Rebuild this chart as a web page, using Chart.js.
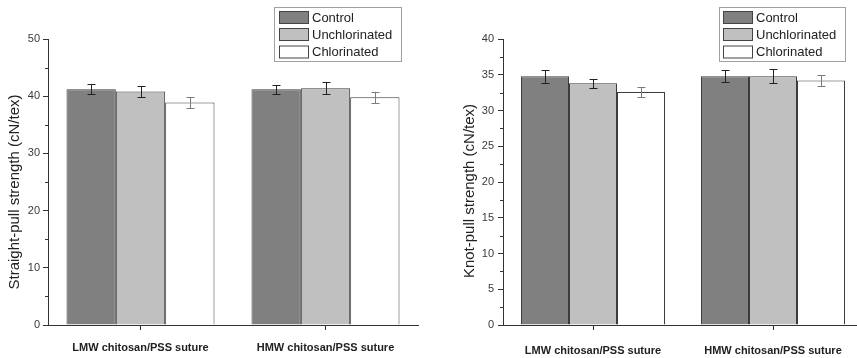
<!DOCTYPE html>
<html>
<head>
<meta charset="utf-8">
<script src="https://cdn.jsdelivr.net/npm/chart.js@4.4.0/dist/chart.umd.min.js"></script>
<style>
  html, body { margin: 0; padding: 0; background: #fff; overflow: hidden; }
  body { width: 857px; height: 358px; position: relative; }
  .box { position: absolute; top: 0; height: 358px; }
  #box1 { left: 0; width: 430px; }
  #box2 { left: 430px; width: 440px; }
</style>
</head>
<body>
<div class="box" id="box1"><canvas id="chart-1"></canvas></div>
<div class="box" id="box2"><canvas id="chart-2"></canvas></div>
<script>
// Data

const categories = ['LMW chitosan/PSS suture', 'HMW chitosan/PSS suture'];
const seriesNames = ['Control', 'Unchlorinated', 'Chlorinated'];
const seriesColors = ['#808080', '#c0c0c0', '#ffffff'];

// straight-pull strength (cN/tex)
const straightControl = [41.2, 41.2];
const straightUnchlorinated = [40.8, 41.4];
const straightChlorinated = [38.9, 39.8];
const straightControlErr = [0.9, 0.8];
const straightUnchlorinatedErr = [0.9, 1.0];
const straightChlorinatedErr = [0.9, 1.0];

// knot-pull strength (cN/tex)
const knotControl = [34.8, 34.8];
const knotUnchlorinated = [33.8, 34.8];
const knotChlorinated = [32.6, 34.2];
const knotControlErr = [0.9, 0.8];
const knotUnchlorinatedErr = [0.6, 1.0];
const knotChlorinatedErr = [0.7, 0.8];

const FONT = "'Liberation Sans', Arial, sans-serif";
const AXIS = '#333333';

// Plugins

// error bars drawn on top of each bar from dataset.errors
const errorBarPlugin = {
    id: 'errorBars',
    afterDatasetsDraw(chart) {
        const ctx = chart.ctx;
        const yScale = chart.scales.y;
        chart.data.datasets.forEach((ds, i) => {
            const meta = chart.getDatasetMeta(i);
            meta.data.forEach((bar, j) => {
                const x = Math.round(bar.x) + 0.5;
                const yTop = Math.round(yScale.getPixelForValue(ds.data[j] + ds.errors[j])) + 0.5;
                const yBot = Math.round(yScale.getPixelForValue(ds.data[j] - ds.errors[j])) + 0.5;
                ctx.save();
                ctx.strokeStyle = ds.errorColor;
                ctx.lineWidth = 1;
                ctx.beginPath();
                ctx.moveTo(x, yTop); ctx.lineTo(x, yBot);
                ctx.moveTo(x - 4, yTop); ctx.lineTo(x + 4, yTop);
                ctx.moveTo(x - 4, yBot); ctx.lineTo(x + 4, yBot);
                ctx.stroke();
                ctx.restore();
            });
        });
    }
};

// short minor ticks between labelled ticks on y axis
const minorTickPlugin = {
    id: 'minorTicks',
    afterDraw(chart, args, opts) {
        const ctx = chart.ctx;
        const y = chart.scales.y;
        const left = chart.chartArea.left;
        ctx.save();
        ctx.strokeStyle = AXIS;
        ctx.lineWidth = 1;
        ctx.beginPath();
        for (let v = opts.step; v < y.max; v += opts.step * 2) {
            const py = Math.round(y.getPixelForValue(v)) + 0.5;
            ctx.moveTo(left - 3, py);
            ctx.lineTo(left, py);
        }
        ctx.stroke();
        ctx.restore();
    }
};

// rotated y axis title, placed by hand
const yTitlePlugin = {
    id: 'yTitle',
    afterDraw(chart, args, opts) {
        const ctx = chart.ctx;
        ctx.save();
        ctx.translate(opts.x, opts.y);
        ctx.rotate(-Math.PI / 2);
        ctx.font = '15px ' + FONT;
        ctx.fillStyle = '#222222';
        ctx.textAlign = 'center';
        ctx.textBaseline = 'middle';
        ctx.fillText(opts.text, 0, 0);
        ctx.restore();
    }
};

// boxed legend in top right
const boxLegendPlugin = {
    id: 'boxLegend',
    afterDraw(chart, args, opts) {
        const ctx = chart.ctx;
        ctx.save();
        ctx.strokeStyle = '#a0a0a0';
        ctx.lineWidth = 1;
        ctx.strokeRect(opts.x + 0.5, opts.y + 0.5, opts.w, opts.h);
        ctx.font = '13px ' + FONT;
        ctx.textBaseline = 'middle';
        chart.data.datasets.forEach((ds, i) => {
            const cy = opts.rows[i];
            ctx.fillStyle = ds.backgroundColor;
            ctx.fillRect(opts.swatchX, cy - 6, 29, 12);
            ctx.strokeStyle = '#444444';
            ctx.strokeRect(opts.swatchX + 0.5, cy - 6 + 0.5, 29, 12);
            ctx.fillStyle = '#222222';
            ctx.fillText(ds.label, opts.textX, cy + 1);
        });
        ctx.restore();
    }
};

function makeDatasets(values, errors) {
    return seriesNames.map((name, i) => ({
        label: name,
        data: values[i],
        errors: errors[i],
        errorColor: i === 2 ? '#7a7a7a' : '#222222',
        backgroundColor: seriesColors[i],
        borderColor: '#3c3c3c',
        borderWidth: 1,
        categoryPercentage: 0.8,
        barPercentage: 1.0,
    }));
}

function makeConfig(datasets, s) {
    return {
        type: 'bar',
        data: { labels: categories, datasets: datasets },
        plugins: [errorBarPlugin, minorTickPlugin, yTitlePlugin, boxLegendPlugin],
        options: {
            responsive: true,
            maintainAspectRatio: false,
            animation: false,
            layout: { padding: { left: s.padLeft, right: s.padRight, top: s.padTop, bottom: 0 } },
            plugins: {
                legend: { display: false },
                tooltip: { enabled: false },
                minorTicks: { step: s.step / 2 },
                yTitle: s.title,
                boxLegend: s.legend,
            },
            scales: {
                x: {
                    type: 'category',
                    offset: true,
                    afterFit: (scale) => { scale.height = 33; },
                    grid: { display: true, drawOnChartArea: false, offset: false, tickLength: 5, color: AXIS },
                    border: { display: true, color: AXIS, width: 1 },
                    ticks: { color: '#222222', padding: s.xPad, maxRotation: 0, font: { family: FONT, size: 11, weight: 'bold' } },
                },
                y: {
                    min: 0,
                    max: s.max,
                    afterFit: (scale) => { scale.width = s.yWidth; },
                    grid: { display: true, drawOnChartArea: false, tickLength: 5, color: AXIS },
                    border: { display: true, color: AXIS, width: 1 },
                    ticks: { stepSize: s.step, color: '#3a3a3a', padding: s.yPad, font: { family: FONT, size: 11 } },
                },
            },
        },
    };
}


// Chart-1

const data1 = makeDatasets(
    [straightControl, straightUnchlorinated, straightChlorinated],
    [straightControlErr, straightUnchlorinatedErr, straightChlorinatedErr]
);
const config1 = makeConfig(data1, {
    padLeft: 0, padRight: 12, padTop: 39, yWidth: 48, max: 50, step: 10,
    xPad: 11, yPad: 3,
    title: { text: 'Straight-pull strength (cN/tex)', x: 15, y: 192 },
    legend: { x: 274, y: 7, w: 127, h: 54, swatchX: 279, textX: 312, rows: [17, 34, 51.5] },
});
const chart1 = new Chart(document.getElementById('chart-1').getContext('2d'), config1);


// Chart-2

const data2 = makeDatasets(
    [knotControl, knotUnchlorinated, knotChlorinated],
    [knotControlErr, knotUnchlorinatedErr, knotChlorinatedErr]
);
const config2 = makeConfig(data2, {
    padLeft: 24, padRight: 7, padTop: 39, yWidth: 49, max: 40, step: 5,
    xPad: 14, yPad: 4,
    title: { text: 'Knot-pull strength (cN/tex)', x: 40, y: 191 },
    legend: { x: 289, y: 7, w: 126, h: 54, swatchX: 293, textX: 326, rows: [17, 34, 51.5] },
});
const chart2 = new Chart(document.getElementById('chart-2').getContext('2d'), config2);
</script>
</body>
</html>
